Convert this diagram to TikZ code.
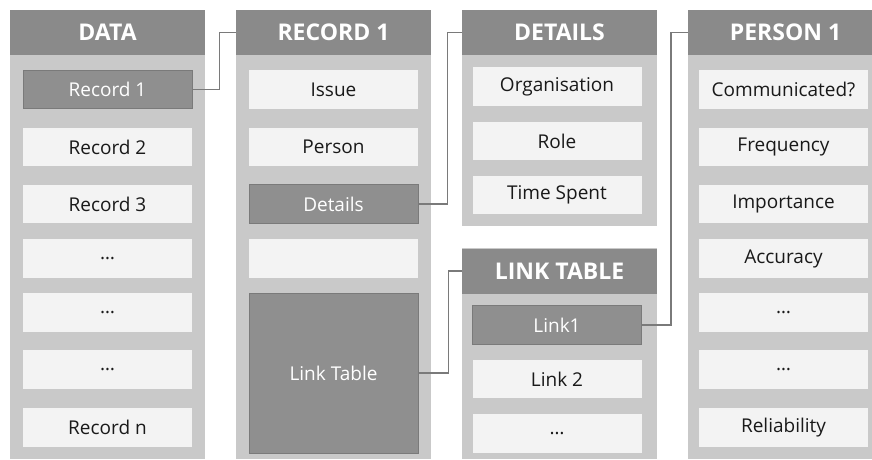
\documentclass[tikz,border=0pt]{standalone}
\usepackage{fontspec}
\setmainfont{Open Sans}
\definecolor{panelgray}{HTML}{C9C9C9}
\definecolor{headgray}{HTML}{8A8A8A}
\definecolor{cellwhite}{HTML}{F3F3F3}
\definecolor{selgray}{HTML}{8F8F8F}
\definecolor{linkgray}{HTML}{7A7A7A}
\begin{document}
\begin{tikzpicture}[x=1pt,y=-1pt,
        panel/.style={fill=panelgray,anchor=north west,inner sep=0pt,minimum width=195pt},
        head/.style={fill=headgray,text=white,font=\fontsize{23}{25}\selectfont\bfseries,inner sep=0pt,minimum width=195pt,minimum height=45pt},
        cell/.style={fill=cellwhite,text=black!90,font=\fontsize{19}{21}\selectfont,inner sep=0pt,minimum width=169pt,minimum height=38.5pt},
        sel/.style={cell,fill=selgray,draw=linkgray,line width=0.8pt,text=white},
        link/.style={draw=linkgray,line width=1.6pt}]
        \useasboundingbox (0,0) rectangle (872,460);
        % panels
        \node [panel,minimum height=449pt] (datap) at (10,10) {};
        \node [panel,minimum height=449pt] (recp) at (236,10) {};
        \node [panel,minimum height=216pt] (detp) at (462,10) {};
        \node [panel,minimum height=211pt] (linkp) at (462,248) {};
        \node [panel,minimum height=449pt] (perp) at (688,10) {};
        % headers
        \node [head] (datah) at (107.5,32.5) {DATA};
        \node [head] (rech) at (333.5,32.5) {RECORD 1};
        \node [head] (deth) at (559.5,32.5) {DETAILS};
        \node [head] (linkh) at (559.5,271) {LINK TABLE};
        \node [head] (perh) at (785.5,32.5) {PERSON 1};
        % data
        \node [sel] (d1) at (107.5,89.5) {Record 1};
        \node [cell] (d2) at (107.5,147) {Record 2};
        \node [cell] (d3) at (107.5,204) {Record 3};
        \node [cell] (d4) at (107.5,258.5) {…};
        \node [cell] (d5) at (107.5,312.5) {…};
        \node [cell] (d6) at (107.5,369.5) {…};
        \node [cell] (dn) at (107.5,427.5) {Record n};
        % record 1
        \node [cell] (issue) at (333.5,89.5) {Issue};
        \node [cell] (person) at (333.5,147) {Person};
        \node [sel] (det) at (333.5,204) {Details};
        \node [cell] (blank) at (333.5,258.5) {};
        \node [sel,minimum height=160pt] (lnk) at (333.5,373) {Link Table};
        % details
        \node [cell] (org) at (557,86.5) {Organisation};
        \node [cell] (role) at (557,141) {Role};
        \node [cell] (time) at (557,195) {Time Spent};
        % link table
        \node [sel] (link1) at (557,325) {Link1};
        \node [cell] (link2) at (557,379) {Link 2};
        \node [cell] (link3) at (557,433.5) {…};
        % person 1
        \node [cell] (p1) at (783.5,89.5) {Communicated?};
        \node [cell] (p2) at (783.5,147) {Frequency};
        \node [cell] (p3) at (783.5,204) {Importance};
        \node [cell] (p4) at (783.5,258.5) {Accuracy};
        \node [cell] (p5) at (783.5,312.5) {…};
        \node [cell] (p6) at (783.5,369.5) {…};
        \node [cell] (p7) at (783.5,427.5) {Reliability};
        % connectors
        \draw [link] (d1.east) -- ++(27,0) |- (rech.west);
        \draw [link] (det.east) -- ++(29,0) |- (deth.west);
        \draw [link] (lnk.east) -- ++(30,0) |- (linkh.west);
        \draw [link] (link1.east) -- ++(29,0) |- (perh.west);
\end{tikzpicture}
\end{document}
